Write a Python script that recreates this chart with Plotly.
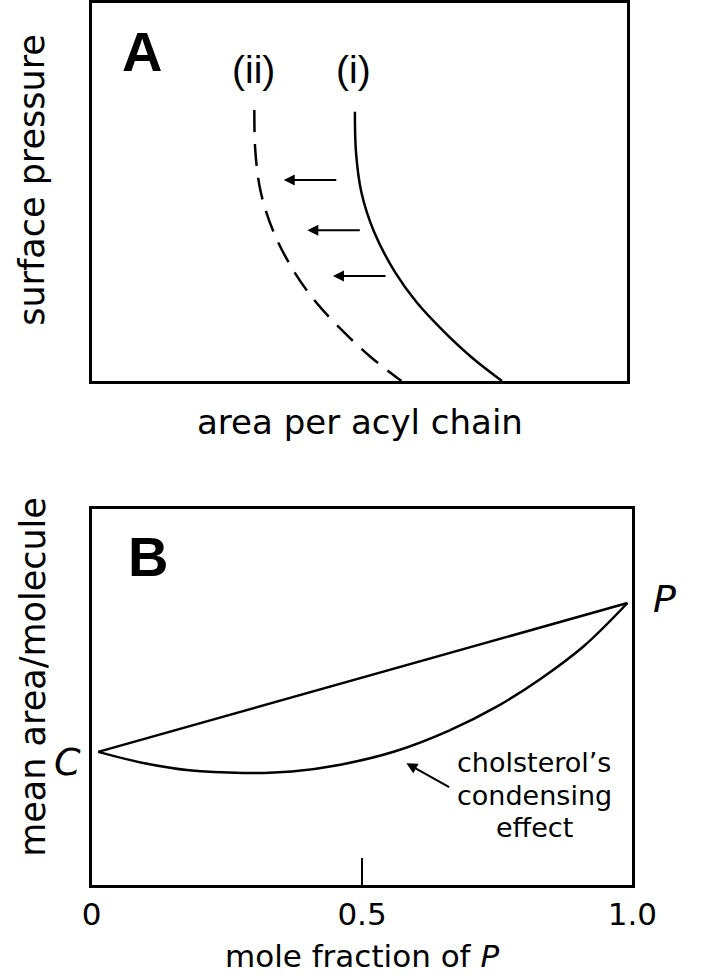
import plotly.graph_objects as go

# ---------- Panel A data (arbitrary units 0-10) ----------
a_curve_i_x = [4.92, 4.94, 5.04, 5.28, 5.67, 6.07, 6.59, 7.10, 7.67]
a_curve_i_y = [7.12, 6.06, 5.00, 3.94, 2.88, 2.09, 1.30, 0.63, 0.0]
a_curve_ii_x = [3.04, 3.06, 3.16, 3.40, 3.79, 4.19, 4.71, 5.22, 5.79]
a_curve_ii_y = [7.17, 6.06, 5.00, 3.94, 2.88, 2.09, 1.30, 0.63, 0.0]
a_arrow_tail_x = [4.60, 5.04, 5.52]
a_arrow_head_x = [3.59, 4.03, 4.51]
a_arrow_y = [5.32, 3.99, 2.78]

# ---------- Panel B data (mole fraction of P, mean area 0-1) ----------
b_ideal_x = [0.012, 0.991]
b_ideal_y = [0.354, 0.750]
b_real_x = [0.012, 0.10, 0.18, 0.28, 0.37, 0.46, 0.56, 0.66, 0.75, 0.83, 0.91, 0.991]
b_real_y = [0.354, 0.323, 0.305, 0.298, 0.302, 0.320, 0.355, 0.410, 0.475, 0.548, 0.635, 0.750]
b_tickvals = [0, 0.5, 1.0]
b_ticktext = ["0", "0.5", "1.0"]
b_arrow_tail = (0.664, 0.258)
b_arrow_head = (0.582, 0.324)
b_note_lines = ["cholsterol\u2019s", "condensing", "effect"]
b_note_x = 0.819
b_note_y = [0.327, 0.239, 0.154]

W, H = 702, 978
FONT = "DejaVu Sans"
LW = 2.5

fig = go.Figure()

fig.add_trace(go.Scatter(x=a_curve_i_x, y=a_curve_i_y, mode="lines", line_shape="spline",
                         line=dict(color="black", width=LW), xaxis="x", yaxis="y", showlegend=False))
fig.add_trace(go.Scatter(x=a_curve_ii_x, y=a_curve_ii_y, mode="lines", line_shape="spline",
                         line=dict(color="black", width=LW, dash="22px,12px"), xaxis="x", yaxis="y",
                         showlegend=False))
fig.add_trace(go.Scatter(x=b_ideal_x, y=b_ideal_y, mode="lines",
                         line=dict(color="black", width=LW), xaxis="x2", yaxis="y2", showlegend=False))
fig.add_trace(go.Scatter(x=b_real_x, y=b_real_y, mode="lines", line_shape="spline",
                         line=dict(color="black", width=LW), xaxis="x2", yaxis="y2", showlegend=False))

def px(x):
    return x / W

def py(y):
    return 1 - y / H

ax_common = dict(showline=True, linecolor="black", linewidth=LW, mirror=True,
                 showgrid=False, zeroline=False, fixedrange=True)

fig.update_layout(
    width=W, height=H, margin=dict(l=0, r=0, t=0, b=0),
    paper_bgcolor="white", plot_bgcolor="white",
    font=dict(family=FONT, color="black"),
    xaxis=dict(domain=[px(86), px(649)], range=[0, 10], showticklabels=False, ticks="", anchor="y", **ax_common),
    yaxis=dict(domain=[py(381), py(3)], range=[0, 10], showticklabels=False, ticks="", anchor="x", **ax_common),
    xaxis2=dict(domain=[px(86), px(655)], range=[0, 1], anchor="y2", tickvals=b_tickvals, ticktext=b_ticktext,
                ticks="inside", ticklen=27, tickwidth=2, tickcolor="black", ticklabelstandoff=0,
                tickfont=dict(family=FONT, size=31, color="black"), **ax_common),
    yaxis2=dict(domain=[py(885), py(509)], range=[0, 1], anchor="x2", showticklabels=False, ticks="", **ax_common),
)

ann = []
# arrows panel A
for tx, hx, yy in zip(a_arrow_tail_x, a_arrow_head_x, a_arrow_y):
    ann.append(dict(x=hx, y=yy, ax=tx, ay=yy, xref="x", yref="y", axref="x", ayref="y",
                    text="", showarrow=True, arrowhead=2, arrowsize=1.1, arrowwidth=2, arrowcolor="black"))
# arrow panel B
ann.append(dict(x=b_arrow_head[0], y=b_arrow_head[1], ax=b_arrow_tail[0], ay=b_arrow_tail[1],
                xref="x2", yref="y2", axref="x2", ayref="y2", text="", showarrow=True,
                arrowhead=2, arrowsize=1.1, arrowwidth=2, arrowcolor="black"))
for line, yy in zip(b_note_lines, b_note_y):
    ann.append(dict(x=b_note_x, y=yy, xref="x2", yref="y2", text=line, showarrow=False,
                    font=dict(family=FONT, size=27, color="black"), xanchor="center", yanchor="middle"))

def label(text, x, y, size, family=FONT, angle=0):
    ann.append(dict(x=px(x), y=py(y), xref="paper", yref="paper", text=text, showarrow=False,
                    textangle=angle, xanchor="center", yanchor="middle",
                    font=dict(family=family, size=size, color="black")))

label("<b>A</b>", 139, 52, 56, family="Liberation Sans")
label("<b>B</b>", 145, 556, 56, family="Liberation Sans")
label("(ii)", 256, 70, 39, family="Liberation Sans")
label("(i)", 362, 70, 39, family="Liberation Sans")
label("surface pressure", 23, 180, 35, angle=-90)
label("area per acyl chain", 368, 422, 34)
label("mean area/molecule", 24, 677, 35, angle=-90)
label("mole fraction of <i>P</i>", 370, 956, 31)
label("<i>C</i>", 61, 762, 38)
label("<i>P</i>", 689, 599, 38)

fig.update_layout(annotations=ann)
fig.write_html("out.html", config={"displayModeBar": False},
               post_script="document.body.style.margin='0px';document.body.style.padding='0px';")
